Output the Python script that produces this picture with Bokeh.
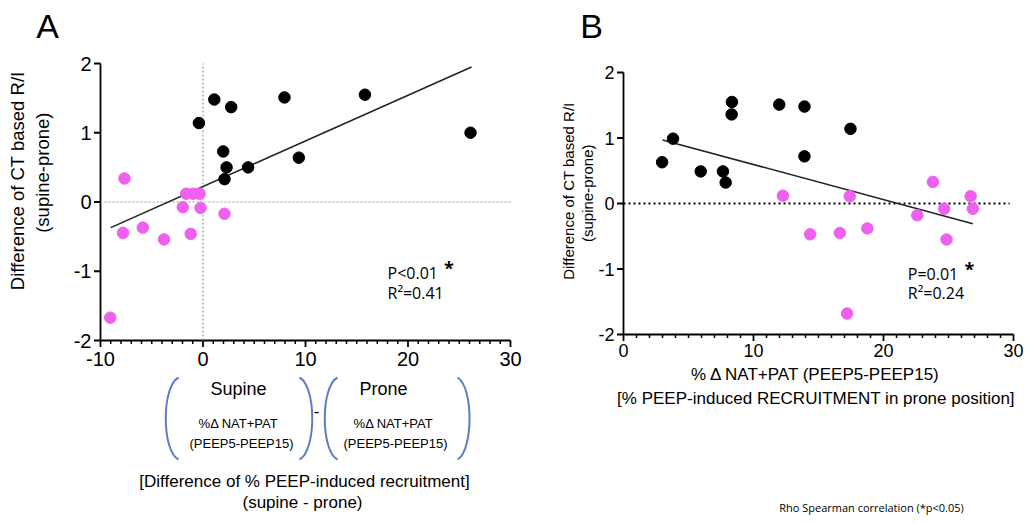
from bokeh.plotting import figure
from bokeh.layouts import row, column
from bokeh.models import Range1d, Label, FixedTicker, Title
from bokeh.core.properties import value
from bokeh.embed import file_html
from bokeh.resources import INLINE

# ---------------- data ----------------
# Panel A: difference of recruitment (supine - prone) vs difference of R/I
a_black_x = [-0.4, 1.1, 2.75, 7.95, 15.8, 26.1, 1.97, 2.3, 4.4, 2.1, 9.35]
a_black_y = [1.14, 1.48, 1.37, 1.51, 1.55, 1.00, 0.73, 0.50, 0.50, 0.33, 0.64]
a_pink_x = [-7.66, -1.64, -0.96, -0.34, -1.97, -0.24, 2.1, -7.8, -5.87, -3.8, -1.2, -9.05]
a_pink_y = [0.34, 0.12, 0.12, 0.12, -0.075, -0.085, -0.17, -0.445, -0.37, -0.54, -0.46, -1.67]
a_fit_x = [-9.0, 26.2]
a_fit_y = [-0.37, 1.95]

# Panel B: % PEEP-induced recruitment in prone position vs difference of R/I
b_black_x = [2.97, 3.81, 5.94, 7.65, 7.86, 8.34, 8.32, 11.98, 13.92, 13.92, 17.46]
b_black_y = [0.63, 0.99, 0.49, 0.49, 0.32, 1.55, 1.36, 1.51, 1.48, 0.72, 1.14]
b_pink_x = [12.26, 17.4, 23.8, 26.7, 26.87, 24.67, 22.6, 14.36, 16.64, 18.76, 24.85, 17.2]
b_pink_y = [0.12, 0.11, 0.33, 0.11, -0.08, -0.08, -0.18, -0.47, -0.45, -0.38, -0.55, -1.68]
b_fit_x = [3.0, 26.87]
b_fit_y = [0.97, -0.31]

a_xticks = [-10, 0, 10, 20, 30]
a_xminor = list(range(-10, 31))
b_xticks = [0, 10, 20, 30]
b_xminor = list(range(0, 31))
y_ticks = [-2, -1, 0, 1, 2]

PINK = "#f060f0"
BLACK = "#000000"
BLUE = "#5a7ec8"
AXFONT = "Liberation Sans"
STATFONT = "Open Sans"

MAJ_LEN = 6.5   # tick lengths in pixels
MIN_LEN = 3.5
AX_W = 1.8


def style(p, tick_size, xticks, xminor, dx, dy):
    """Bokeh axes supply the tick labels; axis rule and ticks are drawn as segments."""
    p.grid.visible = False
    p.outline_line_color = None
    p.xaxis.ticker = FixedTicker(ticks=xticks)
    p.yaxis.ticker = FixedTicker(ticks=y_ticks)
    p.xaxis.major_label_overrides = {t: str(t) for t in xticks}
    p.yaxis.major_label_overrides = {t: str(t) for t in y_ticks}
    for ax in (p.xaxis, p.yaxis):
        ax.axis_line_color = None
        ax.major_tick_line_color = None
        ax.minor_tick_line_color = None
        ax.major_tick_out = 0
        ax.major_tick_in = 0
        ax.minor_tick_out = 0
        ax.minor_tick_in = 0
        ax.major_label_text_font = AXFONT
        ax.major_label_text_font_size = tick_size
        ax.major_label_text_color = "black"
        ax.major_label_standoff = 2
    x0, x1 = min(xticks), max(xticks)
    y0, y1 = min(y_ticks), max(y_ticks)
    # axis rules
    p.segment(x0=[x0, x0], y0=[y0, y0], x1=[x1, x0], y1=[y0, y1],
              line_color="black", line_width=AX_W)
    # x ticks
    minors = [m for m in xminor if m not in xticks]
    p.segment(x0=minors, y0=[y0] * len(minors), x1=minors,
              y1=[y0 - MIN_LEN * dy] * len(minors), line_color="black", line_width=1.5)
    p.segment(x0=xticks, y0=[y0] * len(xticks), x1=xticks,
              y1=[y0 - MAJ_LEN * dy] * len(xticks), line_color="black", line_width=AX_W)
    # y ticks
    p.segment(x0=[x0] * len(y_ticks), y0=y_ticks, x1=[x0 - MAJ_LEN * dx] * len(y_ticks),
              y1=y_ticks, line_color="black", line_width=AX_W)


def blank(width, height, xr, yr):
    f = figure(width=width, height=height, x_range=Range1d(*xr), y_range=Range1d(*yr),
               output_backend="svg", toolbar_location=None, x_axis_type=None, y_axis_type=None,
               min_border_left=0, min_border_right=0, min_border_top=0, min_border_bottom=0,
               frame_align=False)
    f.grid.visible = False
    f.outline_line_color = None
    return f


def stat(p, x, y, txt):
    p.add_layout(Label(x=x, y=y, text=txt, text_font=STATFONT, text_font_size="16px",
                       text_color="black", text_align="left", text_baseline="middle"))


def star(p, x, y):
    p.add_layout(Label(x=x, y=y, text="*", text_font=STATFONT, text_font_size="18px",
                       text_color="black", text_font_style="bold",
                       text_align="center", text_baseline="top"))


def side_title(text, size, offset, standoff, side_align="right"):
    return Title(text=text, align=side_align, offset=offset, standoff=standoff,
                 text_font=AXFONT, text_font_size=size, text_font_style="normal",
                 text_color="black")


# ---------------- Panel A ----------------
topA = blank(550, 50, (0, 550), (50, 0))
topA.text(x=[47], y=[25.5], text=["A"], text_font=value(AXFONT), text_font_size="34px",
          text_align="center", text_baseline="middle")

ADX = 1 / 10.25   # data units per pixel
ADY = 1 / 69.25
pa = figure(width=550, height=326,
            x_range=Range1d(-10 - 7 * ADX, 30 + 2 * ADX),
            y_range=Range1d(-2 - 7 * ADY, 2 + 2 * ADY),
            output_backend="svg", toolbar_location=None, frame_align=False,
            min_border_left=93, min_border_right=38, min_border_top=11, min_border_bottom=29)
style(pa, "20px", a_xticks, a_xminor, ADX, ADY)
pa.xaxis.major_label_standoff = 4
pa.yaxis.axis_label = " "
pa.yaxis.axis_label_text_font_size = "1px"
pa.yaxis.axis_label_standoff = 13
pa.add_layout(side_title("(supine-prone)", "18.5px", 51, 2), "left")
pa.add_layout(side_title("Difference of CT based R/I", "18.5px", 10, 2), "left")

pa.line([min(a_xticks), max(a_xticks)], [0, 0], line_color="#a0a0a0",
        line_dash="2 2", line_width=1.2)
pa.line([0, 0], [min(y_ticks), max(y_ticks)], line_color="#a0a0a0",
        line_dash="2 2", line_width=1.2)
pa.line(a_fit_x, a_fit_y, line_color="#222222", line_width=1.5)
pa.scatter(a_pink_x, a_pink_y, size=11.5, fill_color=PINK, line_color=PINK)
pa.scatter(a_black_x, a_black_y, size=11.5, fill_color=BLACK, line_color=BLACK)
stat(pa, 18.0, -1.03, "P<0.01")
stat(pa, 18.0, -1.31, "R²=0.41")
star(pa, 24.0, -0.78)

# ---------------- Panel A lower annotation ----------------
pa2 = blank(550, 145, (0, 550), (521, 376))
br_x0 = [178, 299, 337, 457]
br_cx = [161, 316, 320, 473]
pa2.bezier(x0=br_x0, y0=[377] * 4, x1=br_x0, y1=[459] * 4,
           cx0=br_cx, cy0=[386] * 4, cx1=br_cx, cy1=[450] * 4,
           line_color=BLUE, line_width=2)
pa2.text(x=[238, 383], y=[388, 388], text=["Supine", "Prone"], text_font=value(AXFONT),
         text_font_size="18px", text_align="center", text_baseline="middle")
pa2.text(x=[238, 393], y=[423, 423], text=["%\u0394 NAT+PAT", "%\u0394 NAT+PAT"],
         text_font=value(AXFONT), text_font_size="13px", text_align="center",
         text_baseline="middle")
pa2.text(x=[241, 395], y=[443, 443], text=["(PEEP5-PEEP15)", "(PEEP5-PEEP15)"],
         text_font=value(AXFONT), text_font_size="13px", text_align="center",
         text_baseline="middle")
pa2.text(x=[316], y=[410], text=["-"], text_font=value(AXFONT), text_font_size="17px",
         text_align="center", text_baseline="middle")
pa2.text(x=[304, 302], y=[481, 502],
         text=["[Difference of % PEEP-induced recruitment]", "(supine - prone)"],
         text_font=value(AXFONT), text_font_size="17px", text_align="center",
         text_baseline="middle")

# ---------------- Panel B ----------------
topB = blank(476, 50, (550, 1026), (50, 0))
topB.text(x=[591], y=[25.5], text=["B"], text_font=value(AXFONT), text_font_size="34px",
          text_align="center", text_baseline="middle")

BDX = 1 / 13.0
BDY = 1 / 65.5
pb = figure(width=476, height=365,
            x_range=Range1d(0 - 7 * BDX, 30 + 2 * BDX),
            y_range=Range1d(-2 - 7 * BDY, 2 + 2 * BDY),
            output_backend="svg", toolbar_location=None, frame_align=False,
            min_border_left=66, min_border_right=11, min_border_top=20, min_border_bottom=74)
style(pb, "18px", b_xticks, b_xminor, BDX, BDY)
pb.add_layout(side_title("(supine-prone)", "15px", 74, 0), "left")
pb.add_layout(side_title("Difference of CT based R/I", "15px", 32, 0), "left")
pb.add_layout(side_title("% \u0394 NAT+PAT (PEEP5-PEEP15)", "17px", 0, 6, "center"), "below")
pb.add_layout(side_title("[% PEEP-induced RECRUITMENT in prone position]", "17px", 0, 0,
                         "center"), "below")

pb.line([min(b_xticks), max(b_xticks) - 0.3], [0, 0], line_color="black",
        line_dash="2 3", line_width=2)
pb.line(b_fit_x, b_fit_y, line_color="#222222", line_width=1.5)
pb.scatter(b_pink_x, b_pink_y, size=11.5, fill_color=PINK, line_color=PINK)
pb.scatter(b_black_x, b_black_y, size=11.5, fill_color=BLACK, line_color=BLACK)
stat(pb, 21.87, -1.075, "P=0.01")
stat(pb, 21.87, -1.365, "R²=0.24")
star(pb, 26.6, -0.82)

pb2 = blank(476, 106, (550, 1026), (521, 415))
pb2.text(x=[871], y=[507], text=["Rho Spearman correlation (*p<0.05)"],
         text_font=value(STATFONT), text_font_size="11px", text_align="center",
         text_baseline="middle")

layout = row(column(topA, pa, pa2), column(topB, pb, pb2))

open("out.html", "w").write(file_html(layout, INLINE))
